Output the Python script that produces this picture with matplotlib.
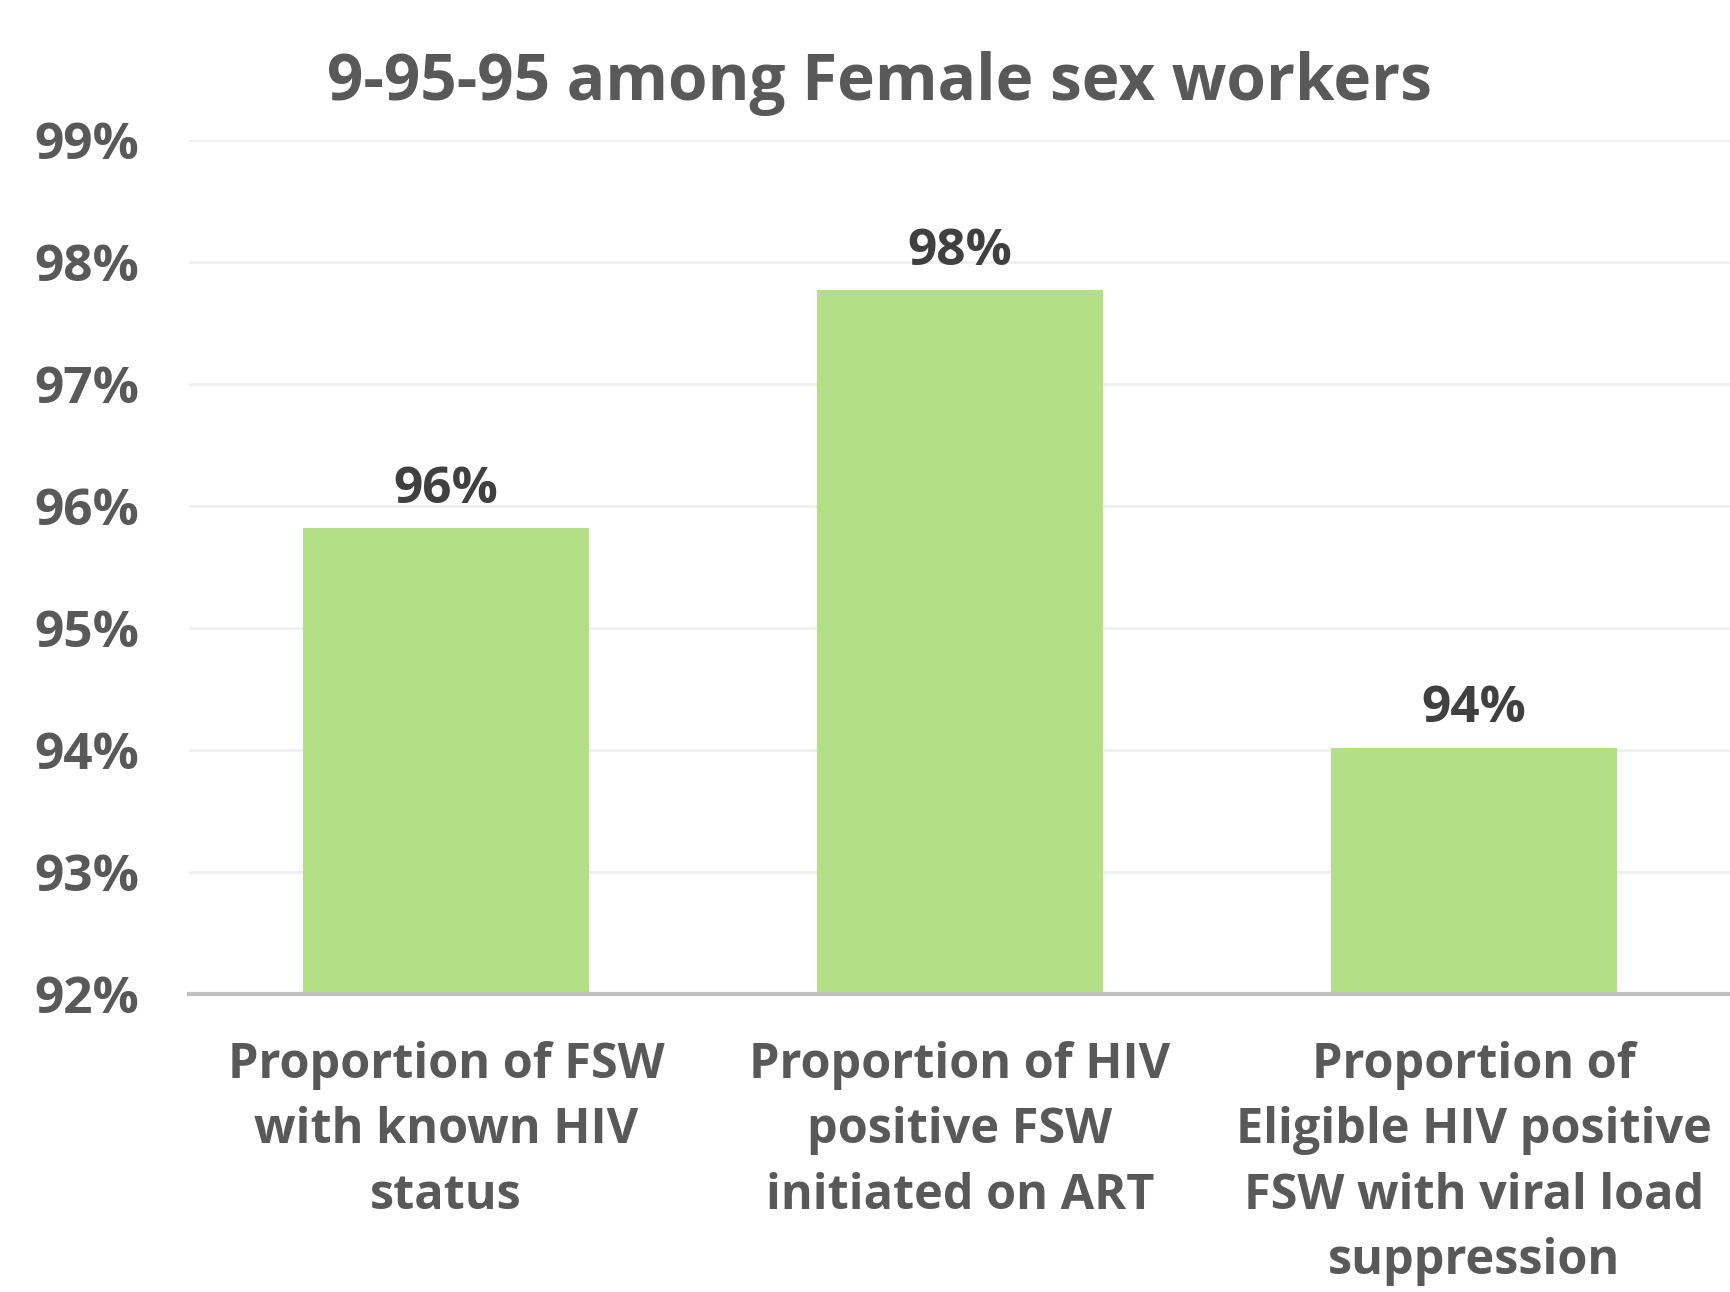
import numpy as np
import matplotlib
matplotlib.use("Agg")
import matplotlib.pyplot as plt

categories = ["Proportion of FSW\nwith known HIV\nstatus",
              "Proportion of HIV\npositive FSW\ninitiated on ART",
              "Proportion of\nEligible HIV positive\nFSW with viral load\nsuppression"]
values = [95.82, 97.77, 94.02]
value_labels = ["96%", "98%", "94%"]
yticks = [92, 93, 94, 95, 96, 97, 98, 99]

plt.rcParams['font.family'] = ['Open Sans', 'DejaVu Sans']
plt.rcParams['font.weight'] = 'bold'

fig = plt.figure(figsize=(17.31, 12.92), dpi=100)
ax = fig.add_axes([0.1092, 0.2307, 0.8908, 0.6609])

x = np.arange(len(categories))
ax.bar(x, values, width=0.556, bottom=0, color='#b3df86', zorder=3)
ax.set_ylim(92, 99)
ax.set_xlim(-0.5, 2.5)

for xi, v, lab in zip(x, values, value_labels):
    ax.text(xi, v + 0.11, lab, ha='center', va='bottom', fontsize=37,
            color='#404040', fontweight='bold')

ax.set_yticks(yticks)
ax.set_yticklabels([f"{t}%" for t in yticks], fontsize=37, color='#595959',
                   fontweight='bold')
ax.set_xticks(x)
ax.set_xticklabels(categories, fontsize=35, color='#595959', fontweight='bold',
                   linespacing=1.44, va='top')
ax.tick_params(axis='both', length=0)
ax.tick_params(axis='x', pad=34)
ax.tick_params(axis='y', pad=36)

ax.grid(axis='y', color='#efefef', lw=2, zorder=0)
for s in ['top', 'right', 'left']:
    ax.spines[s].set_visible(False)
ax.spines['bottom'].set_color('#c0c0c0')
ax.spines['bottom'].set_linewidth(3)
ax.spines['bottom'].set_zorder(4)

fig.text(0.508, 0.935, "9-95-95 among Female sex workers", ha='center', va='center',
         fontsize=46, color='#595959', fontweight='bold')

fig.savefig("out.png", dpi=100, facecolor='white')
